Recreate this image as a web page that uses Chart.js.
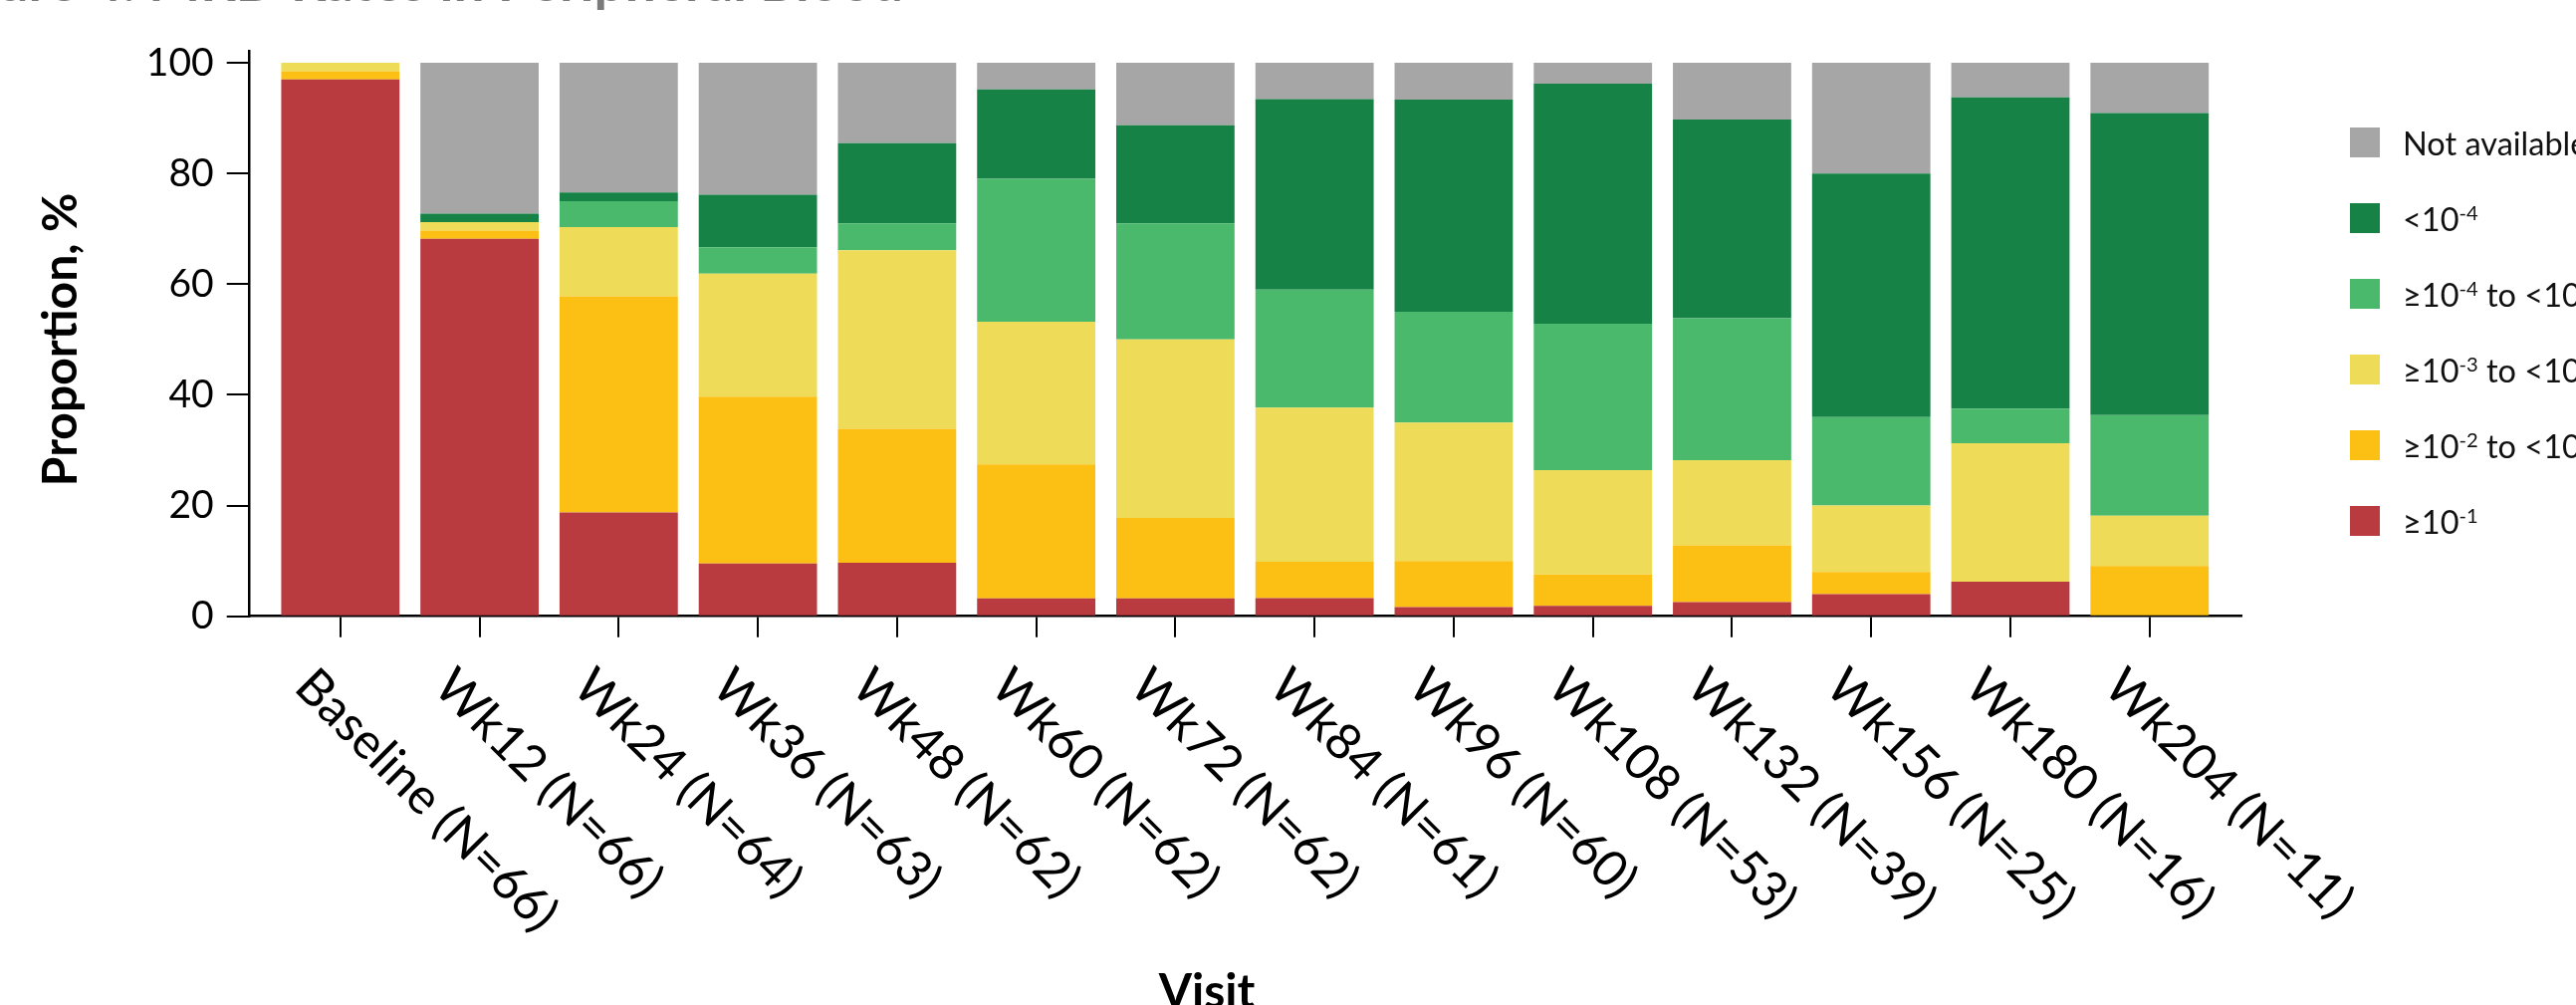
<!DOCTYPE html>
<html>
<head>
<meta charset="utf-8">
<script src="https://cdn.jsdelivr.net/npm/chart.js@4.4.1/dist/chart.umd.min.js"></script>
<style>
  html, body { margin: 0; padding: 0; background: #fff; overflow: hidden; }
  #wrap { position: relative; width: 2587px; height: 1009px; overflow: hidden; }
  #legend { position: absolute; left: 2360px; top: 0; font-family: Lato, "Open Sans", sans-serif;
            font-size: 32.5px; color: #111; white-space: nowrap; }
  #legend .item { position: absolute; left: 0; height: 30px; display: flex; align-items: center; }
  #legend .sw { width: 30px; height: 30px; margin-right: 23px; flex: none; }
  #legend sup { font-size: 0.62em; position: relative; top: -0.5em; vertical-align: baseline; line-height: 0; }
</style>
</head>
<body>
<div id="wrap">
  <canvas id="chart" width="2587" height="1009"></canvas>
  <div id="legend"></div>
</div>
<script>
// Visits on the x axis
const visits = ['Baseline (N=66)', 'Wk12 (N=66)', 'Wk24 (N=64)', 'Wk36 (N=63)', 'Wk48 (N=62)',
  'Wk60 (N=62)', 'Wk72 (N=62)', 'Wk84 (N=61)', 'Wk96 (N=60)', 'Wk108 (N=53)',
  'Wk132 (N=39)', 'Wk156 (N=25)', 'Wk180 (N=16)', 'Wk204 (N=11)'];

// Proportion of patients (%) in each MRD category per visit
const mrdGe1e1   = [96.97, 68.18, 18.75, 9.52, 9.68, 3.23, 3.23, 3.28, 1.67, 1.89, 2.56, 4.00, 6.25, 0];
const mrd1e2to1e1 = [1.52, 1.52, 39.06, 30.16, 24.19, 24.19, 14.52, 6.56, 8.33, 5.66, 10.26, 4.00, 0, 9.09];
const mrd1e3to1e2 = [1.52, 1.52, 12.50, 22.22, 32.26, 25.81, 32.26, 27.87, 25.00, 18.87, 15.38, 12.00, 25.00, 9.09];
const mrd1e4to1e3 = [0, 0, 4.69, 4.76, 4.84, 25.81, 20.97, 21.31, 20.00, 26.42, 25.64, 16.00, 6.25, 18.18];
const mrdLt1e4    = [0, 1.52, 1.56, 9.52, 14.52, 16.13, 17.74, 34.43, 38.33, 43.40, 35.90, 44.00, 56.25, 54.55];
const notAvailable = [0, 27.27, 23.44, 23.81, 14.52, 4.84, 11.29, 6.56, 6.67, 3.77, 10.26, 20.00, 6.25, 9.09];

const yTicks = [0, 20, 40, 60, 80, 100];

// Legend labels (HTML, with superscript exponents), top to bottom
const legendLabels = ['Not available', '&lt;10<sup>-4</sup>', '≥10<sup>-4</sup> to &lt;10<sup>-3</sup>',
  '≥10<sup>-3</sup> to &lt;10<sup>-2</sup>', '≥10<sup>-2</sup> to &lt;10<sup>-1</sup>', '≥10<sup>-1</sup>'];

const COLORS = {
  na: '#a6a6a6', dkgreen: '#168246', ltgreen: '#4bb96c',
  yellow: '#eedc58', orange: '#fbc013', red: '#b93b3f'
};

const FONT = 'Lato, "Open Sans", sans-serif';

const toPoints = arr => arr.map((v, i) => ({ x: i, y: v }));

// Stack order bottom -> top
const datasets = [
  { label: '≥10⁻¹', data: toPoints(mrdGe1e1), backgroundColor: COLORS.red },
  { label: '≥10⁻² to <10⁻¹', data: toPoints(mrd1e2to1e1), backgroundColor: COLORS.orange },
  { label: '≥10⁻³ to <10⁻²', data: toPoints(mrd1e3to1e2), backgroundColor: COLORS.yellow },
  { label: '≥10⁻⁴ to <10⁻³', data: toPoints(mrd1e4to1e3), backgroundColor: COLORS.ltgreen },
  { label: '<10⁻⁴', data: toPoints(mrdLt1e4), backgroundColor: COLORS.dkgreen },
  { label: 'Not available', data: toPoints(notAvailable), backgroundColor: COLORS.na }
];

// Title, axis titles and slanted visit labels
const textPlugin = {
  id: 'texts',
  afterDraw(chart) {
    const ctx = chart.ctx;
    const xs = chart.scales.x, ys = chart.scales.y;
    ctx.save();
    ctx.fillStyle = '#7b7b7b';
    ctx.font = 'bold 55px ' + FONT;
    ctx.textAlign = 'right';
    ctx.textBaseline = 'alphabetic';
    ctx.fillText('Figure 4. MRD Rates in Peripheral Blood', 907, 1);

    ctx.fillStyle = '#000';
    ctx.font = 'bold 48px ' + FONT;
    ctx.textAlign = 'center';
    ctx.fillText('Visit', 1212, 1012);

    ctx.save();
    ctx.translate(77, ys.getPixelForValue(50));
    ctx.rotate(-Math.PI / 2);
    ctx.fillText('Proportion, %', 0, 0);
    ctx.restore();

    ctx.font = '50px ' + FONT;
    ctx.textAlign = 'left';
    visits.forEach((lab, i) => {
      const px = xs.getPixelForValue(i);
      ctx.save();
      ctx.translate(px - 48, 692);
      ctx.rotate(Math.PI / 4);
      ctx.fillText(lab, 0, 0);
      ctx.restore();
    });
    ctx.restore();
  }
};

new Chart(document.getElementById('chart'), {
  type: 'bar',
  data: { datasets },
  options: {
    responsive: false,
    animation: false,
    devicePixelRatio: 1,
    layout: { padding: { left: 0, top: 50.8, right: 336, bottom: 0 } },
    datasets: { bar: { categoryPercentage: 1, barPercentage: 0.85, borderWidth: 0 } },
    plugins: { legend: { display: false }, tooltip: { enabled: false }, title: { display: false } },
    scales: {
      x: {
        type: 'linear', stacked: true, offset: false, min: -0.652, max: 13.66,
        afterBuildTicks: s => { s.ticks = visits.map((_, i) => ({ value: i })); },
        afterFit: s => { s.height = 390.3; },
        ticks: { display: false },
        grid: { offset: false, drawOnChartArea: false, drawTicks: true, tickLength: 21, color: '#000', lineWidth: 2 },
        border: { display: true, color: '#000', width: 2.5 }
      },
      y: {
        stacked: true, min: 0, max: 102.2,
        afterBuildTicks: s => { s.ticks = yTicks.map(v => ({ value: v })); },
        afterFit: s => { s.width = 250.7; },
        ticks: { font: { family: FONT, size: 39 }, color: '#000', padding: 13 },
        grid: { drawOnChartArea: false, drawTicks: true, tickLength: 23, color: '#000', lineWidth: 2 },
        border: { display: true, color: '#000', width: 2.5 }
      }
    }
  },
  plugins: [textPlugin]
});

// Legend
const legendColors = [COLORS.na, COLORS.dkgreen, COLORS.ltgreen, COLORS.yellow, COLORS.orange, COLORS.red];
const legendRowCenters = [143, 219, 295, 371, 447, 523];
const legendEl = document.getElementById('legend');
legendLabels.forEach((lab, i) => {
  const item = document.createElement('div');
  item.className = 'item';
  item.style.top = (legendRowCenters[i] - 15) + 'px';
  item.innerHTML = '<span class="sw" style="background:' + legendColors[i] + '"></span><span>' + lab + '</span>';
  legendEl.appendChild(item);
});
</script>
</body>
</html>
